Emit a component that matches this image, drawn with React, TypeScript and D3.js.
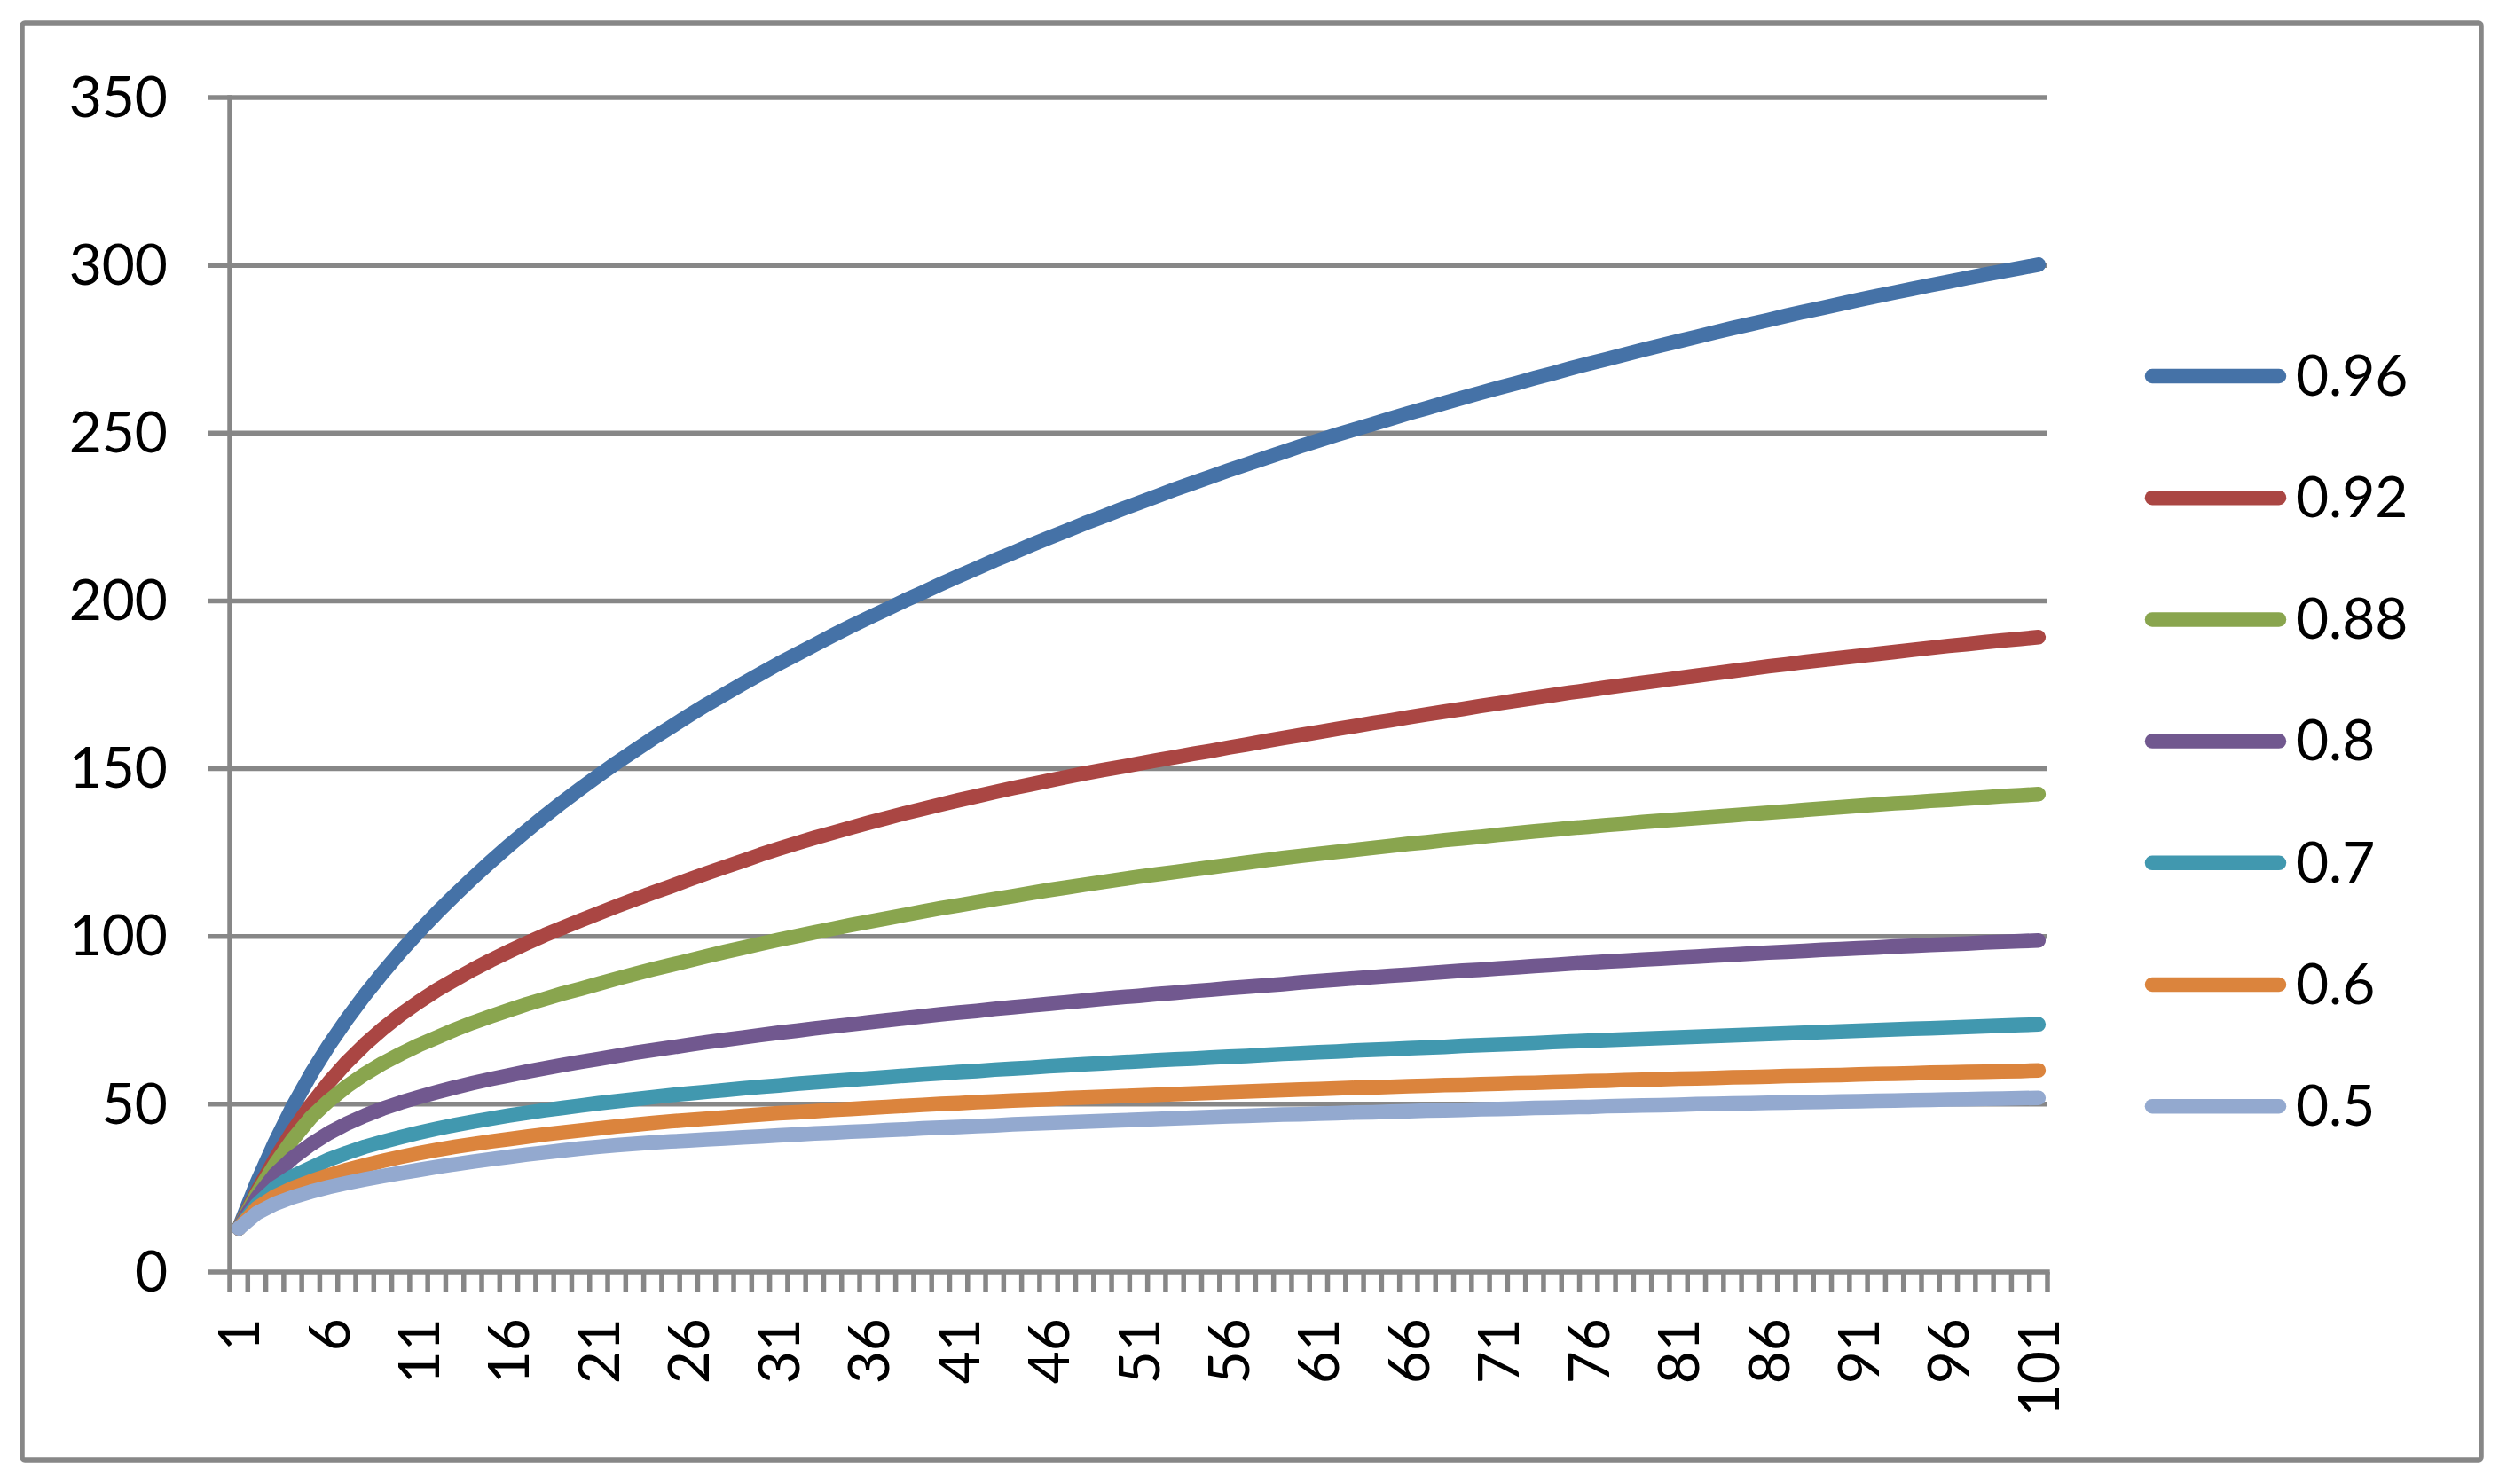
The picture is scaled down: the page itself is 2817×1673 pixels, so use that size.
import React from "react";
import * as d3 from "d3";

const W = 2817;
const H = 1673;

const categories: number[] = d3.range(1, 102);
const xTickLabels: number[] = [1, 6, 11, 16, 21, 26, 31, 36, 41, 46, 51, 56, 61, 66, 71, 76, 81, 86, 91, 96, 101];
const yTicks: number[] = [0, 50, 100, 150, 200, 250, 300, 350];
const seriesNames: string[] = ["0.96", "0.92", "0.88", "0.8", "0.7", "0.6", "0.5"];
const seriesColors: string[] = ["#4572A7", "#AA4643", "#89A54E", "#71588F", "#4198AF", "#DB843D", "#93A9CF"];

const s096: number[] = [
  13, 26.5, 38.5, 49.3, 58.9, 67.5, 75.3, 82.5, 89.2, 95.5,
  101.4, 107.0, 112.3, 117.4, 122.3, 127.0, 131.5, 135.9, 140.1, 144.1,
  148.0, 151.8, 155.4, 159.0, 162.4, 165.8, 169.1, 172.2, 175.3, 178.3,
  181.3, 184.1, 186.9, 189.7, 192.4, 195.0, 197.5, 200.1, 202.5, 205.0,
  207.4, 209.7, 212.1, 214.3, 216.6, 218.8, 220.9, 223.1, 225.1, 227.2,
  229.2, 231.2, 233.2, 235.1, 237.0, 238.9, 240.7, 242.5, 244.3, 246.1,
  247.8, 249.5, 251.1, 252.7, 254.3, 255.9, 257.4, 259.0, 260.5, 262.0,
  263.5, 264.9, 266.4, 267.8, 269.3, 270.7, 272.0, 273.4, 274.8, 276.1,
  277.4, 278.7, 280.0, 281.3, 282.5, 283.7, 285.0, 286.2, 287.3, 288.5,
  289.7, 290.8, 291.9, 293.0, 294.1, 295.1, 296.2, 297.2, 298.2, 299.2,
  300.2,
];
const s092: number[] = [
  13, 23.8, 33.4, 42.0, 49.7, 56.5, 62.5, 67.8, 72.5, 76.7,
  80.5, 84.0, 87.1, 90.1, 92.9, 95.5, 98.0, 100.4, 102.6, 104.8,
  106.9, 109.0, 111.0, 113.0, 114.9, 116.9, 118.8, 120.7, 122.5, 124.4,
  126.1, 127.8, 129.4, 130.9, 132.4, 133.9, 135.3, 136.7, 138.0, 139.3,
  140.6, 141.8, 143.0, 144.2, 145.3, 146.4, 147.5, 148.6, 149.6, 150.5,
  151.5, 152.5, 153.4, 154.4, 155.3, 156.3, 157.2, 158.2, 159.1, 160.0,
  160.9, 161.8, 162.7, 163.6, 164.4, 165.3, 166.2, 167.0, 167.8, 168.7,
  169.5, 170.3, 171.1, 171.9, 172.7, 173.4, 174.2, 174.9, 175.6, 176.3,
  177.0, 177.7, 178.4, 179.1, 179.8, 180.5, 181.1, 181.8, 182.4, 183.0,
  183.6, 184.2, 184.8, 185.4, 186.0, 186.6, 187.1, 187.7, 188.2, 188.7,
  189.2,
];
const s088: number[] = [
  13, 23.2, 31.9, 39.5, 46.0, 51.0, 55.3, 59.0, 62.2, 65.0,
  67.6, 69.9, 72.2, 74.3, 76.2, 78.0, 79.8, 81.4, 83.0, 84.4,
  85.9, 87.4, 88.8, 90.2, 91.5, 92.8, 94.1, 95.4, 96.6, 97.8,
  99.0, 100.1, 101.2, 102.3, 103.4, 104.4, 105.4, 106.4, 107.4, 108.4,
  109.3, 110.2, 111.1, 112.0, 112.9, 113.8, 114.6, 115.4, 116.2, 117.0,
  117.8, 118.5, 119.2, 119.9, 120.6, 121.3, 122.0, 122.7, 123.4, 124.0,
  124.6, 125.2, 125.8, 126.4, 127.0, 127.6, 128.1, 128.7, 129.2, 129.7,
  130.3, 130.8, 131.3, 131.8, 132.3, 132.7, 133.2, 133.6, 134.1, 134.5,
  134.9, 135.3, 135.7, 136.1, 136.5, 136.9, 137.3, 137.7, 138.1, 138.5,
  138.9, 139.3, 139.7, 140.0, 140.4, 140.7, 141.1, 141.4, 141.8, 142.1,
  142.4,
];
const s08: number[] = [
  13, 22, 29, 34, 38, 41.4, 44.2, 46.6, 48.7, 50.5,
  52.1, 53.6, 55.0, 56.3, 57.5, 58.6, 59.7, 60.7, 61.7, 62.6,
  63.5, 64.4, 65.3, 66.1, 66.9, 67.7, 68.5, 69.2, 69.9, 70.6,
  71.3, 71.9, 72.6, 73.2, 73.8, 74.4, 75.0, 75.6, 76.2, 76.8,
  77.3, 77.8, 78.4, 78.9, 79.4, 79.9, 80.4, 80.9, 81.4, 81.9,
  82.3, 82.8, 83.2, 83.7, 84.1, 84.6, 85.0, 85.4, 85.8, 86.3,
  86.7, 87.1, 87.5, 87.9, 88.3, 88.6, 89.0, 89.4, 89.8, 90.1,
  90.5, 90.8, 91.2, 91.5, 91.9, 92.2, 92.5, 92.8, 93.1, 93.4,
  93.7, 94.0, 94.3, 94.6, 94.9, 95.2, 95.4, 95.7, 96.0, 96.2,
  96.5, 96.7, 97.0, 97.2, 97.5, 97.7, 97.9, 98.2, 98.4, 98.6,
  98.8,
];
const s07: number[] = [
  13, 20, 25, 28.5, 31, 33.5, 35.5, 37.3, 38.8, 40.2,
  41.5, 42.7, 43.8, 44.8, 45.7, 46.6, 47.4, 48.2, 48.9, 49.6,
  50.3, 50.9, 51.5, 52.1, 52.7, 53.2, 53.7, 54.2, 54.7, 55.2,
  55.6, 56.1, 56.5, 56.9, 57.3, 57.7, 58.1, 58.5, 58.9, 59.2,
  59.6, 59.9, 60.3, 60.6, 60.9, 61.3, 61.6, 61.9, 62.2, 62.5,
  62.8, 63.1, 63.4, 63.6, 63.9, 64.2, 64.4, 64.7, 65, 65.2,
  65.5, 65.7, 66, 66.2, 66.4, 66.7, 66.9, 67.1, 67.4, 67.6,
  67.8, 68, 68.2, 68.5, 68.7, 68.9, 69.1, 69.3, 69.5, 69.7,
  69.9, 70.1, 70.3, 70.5, 70.7, 70.9, 71.1, 71.3, 71.5, 71.7,
  71.9, 72.1, 72.3, 72.5, 72.6, 72.8, 73, 73.2, 73.4, 73.6,
  73.8,
];
const s06: number[] = [
  13, 19, 22.5, 25, 27, 28.8, 30.4, 31.8, 33.1, 34.3,
  35.4, 36.4, 37.3, 38.1, 38.9, 39.6, 40.3, 41, 41.6, 42.2,
  42.8, 43.4, 43.9, 44.4, 44.9, 45.3, 45.7, 46.1, 46.5, 46.9,
  47.3, 47.6, 47.9, 48.3, 48.6, 48.9, 49.2, 49.5, 49.8, 50.1,
  50.3, 50.6, 50.8, 51.1, 51.3, 51.5, 51.8, 52, 52.2, 52.4,
  52.6, 52.8, 53, 53.2, 53.4, 53.6, 53.8, 54, 54.2, 54.4,
  54.5, 54.7, 54.9, 55, 55.2, 55.4, 55.5, 55.7, 55.8, 56,
  56.1, 56.3, 56.4, 56.6, 56.7, 56.9, 57, 57.2, 57.3, 57.4,
  57.6, 57.7, 57.8, 58, 58.1, 58.2, 58.4, 58.5, 58.6, 58.7,
  58.9, 59, 59.1, 59.2, 59.4, 59.5, 59.6, 59.7, 59.8, 59.9,
  60.1,
];
const s05: number[] = [
  13, 17.5, 20.3, 22.3, 23.9, 25.3, 26.5, 27.6, 28.6, 29.5,
  30.4, 31.3, 32.1, 32.9, 33.6, 34.3, 35, 35.6, 36.2, 36.8,
  37.3, 37.8, 38.2, 38.6, 38.9, 39.2, 39.5, 39.8, 40.1, 40.4,
  40.7, 41, 41.3, 41.5, 41.8, 42, 42.3, 42.5, 42.8, 43,
  43.2, 43.5, 43.7, 44, 44.2, 44.4, 44.6, 44.8, 45, 45.2,
  45.4, 45.6, 45.8, 46, 46.2, 46.4, 46.5, 46.7, 46.9, 47,
  47.2, 47.3, 47.5, 47.6, 47.8, 47.9, 48.1, 48.2, 48.3, 48.5,
  48.6, 48.7, 48.9, 49, 49.1, 49.2, 49.4, 49.5, 49.6, 49.7,
  49.8, 50, 50.1, 50.2, 50.3, 50.4, 50.5, 50.6, 50.7, 50.8,
  50.9, 51, 51.1, 51.2, 51.3, 51.4, 51.5, 51.6, 51.7, 51.8,
  51.9,
];

const seriesValues: number[][] = [s096, s092, s088, s08, s07, s06, s05];

const GRID = "#878787";
const FONT = "Lato, 'Open Sans', sans-serif";
const FS = 64;

export default function App() {
  const plotLeft = 259;
  const plotRight = 2308;
  const plotTop = 110;
  const plotBottom = 1434;
  const tickOut = 24;

  const x = d3.scaleBand<number>().domain(categories).range([plotLeft, plotRight]).padding(0);
  const bw = x.bandwidth();
  const cx = (c: number) => (x(c) as number) + bw / 2;
  const y = d3.scaleLinear().domain([0, 350]).range([plotBottom, plotTop]);

  const line = d3
    .line<number>()
    .x((_, i) => cx(categories[i]))
    .y((v) => y(v));

  const boundaries = d3.range(0, categories.length + 1).map((k) => plotLeft + k * bw);

  const legendX1 = 2426;
  const legendX2 = 2569;
  const legendTop = 424;
  const legendStep = 137.2;

  return (
    <svg
      width={W}
      height={H}
      style={{ position: "absolute", left: 0, top: 0, background: "#fff" }}
    >
      <rect x={0} y={0} width={W} height={H} fill="#fff" />
      <rect x={25} y={26} width={2772} height={1620} rx={3} fill="#fff" stroke={GRID} strokeWidth={5.5} />

      {yTicks.filter((t) => t > 0).map((t) => (
        <line key={"g" + t} x1={plotLeft - tickOut} x2={plotRight} y1={y(t)} y2={y(t)} stroke={GRID} strokeWidth={5.5} />
      ))}

      <line x1={plotLeft} x2={plotLeft} y1={plotTop - 2.7} y2={plotBottom} stroke={GRID} strokeWidth={5.5} />
      <line x1={plotLeft - tickOut} x2={plotRight + 2.7} y1={plotBottom} y2={plotBottom} stroke={GRID} strokeWidth={5.5} />
      {boundaries.map((bx, k) => (
        <line key={"t" + k} x1={bx} x2={bx} y1={plotBottom} y2={plotBottom + 23} stroke={GRID} strokeWidth={5.5} />
      ))}

      {yTicks.map((t) => (
        <text key={"yl" + t} x={189} y={y(t)} dy="0.34em" textAnchor="end" fontFamily={FONT} fontSize={FS} fill="#000">
          {t}
        </text>
      ))}

      {xTickLabels.map((c) => (
        <text
          key={"xl" + c}
          transform={`translate(${cx(c)},${1486}) rotate(-90)`}
          dy="0.36em"
          textAnchor="end"
          fontFamily={FONT}
          fontSize={FS}
          fill="#000"
        >
          {c}
        </text>
      ))}

      {seriesValues.map((vals, si) => (
        <path
          key={"s" + si}
          d={line(vals) || ""}
          fill="none"
          stroke={seriesColors[si]}
          strokeWidth={16.5}
          strokeLinecap="round"
          strokeLinejoin="round"
        />
      ))}

      {seriesNames.map((n, si) => {
        const ly = legendTop + si * legendStep;
        return (
          <g key={"lg" + si}>
            <line x1={legendX1} x2={legendX2} y1={ly} y2={ly} stroke={seriesColors[si]} strokeWidth={16.5} strokeLinecap="round" />
            <text x={2588} y={ly} dy="0.34em" fontFamily={FONT} fontSize={FS} fill="#000">
              {n}
            </text>
          </g>
        );
      })}
    </svg>
  );
}
